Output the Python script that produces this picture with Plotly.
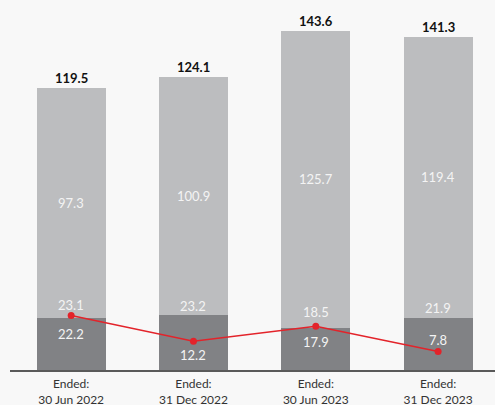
import plotly.graph_objects as go

categories = ["Ended:<br>30 Jun 2022", "Ended:<br>31 Dec 2022", "Ended:<br>30 Jun 2023", "Ended:<br>31 Dec 2023"]
dark_values = [22.2, 23.2, 17.9, 21.9]
light_values = [97.3, 100.9, 125.7, 119.4]
totals = [119.5, 124.1, 143.6, 141.3]
line_values = [23.1, 12.2, 18.5, 7.8]

# label offsets in pixels (style only)
dark_label_shift = [-16, 9, -14, 10]
line_label_shift = [10, -14, 14, 12]

DARK = "#818285"
LIGHT = "#bcbdbf"
RED = "#e3232a"
FONT = "Lato"
BG = "#f8f8f8"

fig = go.Figure()
fig.add_trace(go.Bar(x=categories, y=dark_values, marker=dict(color=DARK, line=dict(width=0)),
                     width=0.564, hoverinfo="skip"))
fig.add_trace(go.Bar(x=categories, y=light_values, marker=dict(color=LIGHT, line=dict(width=0)),
                     width=0.564, hoverinfo="skip"))
fig.add_trace(go.Scatter(x=categories, y=line_values, mode="lines+markers",
                         line=dict(color=RED, width=1.5), marker=dict(color=RED, size=7),
                         hoverinfo="skip", cliponaxis=False))

anns = []
for i, c in enumerate(categories):
    anns.append(dict(x=c, y=dark_values[i] + light_values[i] / 2, text=f"{light_values[i]}",
                     showarrow=False, font=dict(family=FONT, size=13, color="#f4f4f4")))
    anns.append(dict(x=c, y=dark_values[i], yshift=dark_label_shift[i], text=f"{dark_values[i]}",
                     showarrow=False, font=dict(family=FONT, size=13, color="#f4f4f4")))
    anns.append(dict(x=c, y=line_values[i], yshift=line_label_shift[i], text=f"{line_values[i]}",
                     showarrow=False, font=dict(family=FONT, size=13, color="#f4f4f4")))
    anns.append(dict(x=c, y=totals[i], yshift=10, text=f"<b>{totals[i]}</b>",
                     showarrow=False, font=dict(family=FONT, size=13, color="#111111")))

fig.update_layout(
    width=495, height=405,
    barmode="stack",
    showlegend=False,
    paper_bgcolor=BG,
    plot_bgcolor=BG,
    margin=dict(l=10, r=0, t=0, b=35, pad=0),
    annotations=anns,
    font=dict(family=FONT, size=12, color="#333333"),
    xaxis=dict(range=[-0.5, 3.465], showgrid=False, showline=True, linecolor="#5a5a5a",
               linewidth=1.5, ticks="", tickfont=dict(family=FONT, size=12, color="#333333"),
               zeroline=False, automargin=False, ticklabelstandoff=2),
    yaxis=dict(range=[0, 156.8], visible=False, showgrid=False, zeroline=False,
               showline=False, automargin=False),
)

fig.write_html("out.html", config={"displayModeBar": False},
               post_script=f"document.body.style.margin='0px';document.body.style.background='{BG}';")
